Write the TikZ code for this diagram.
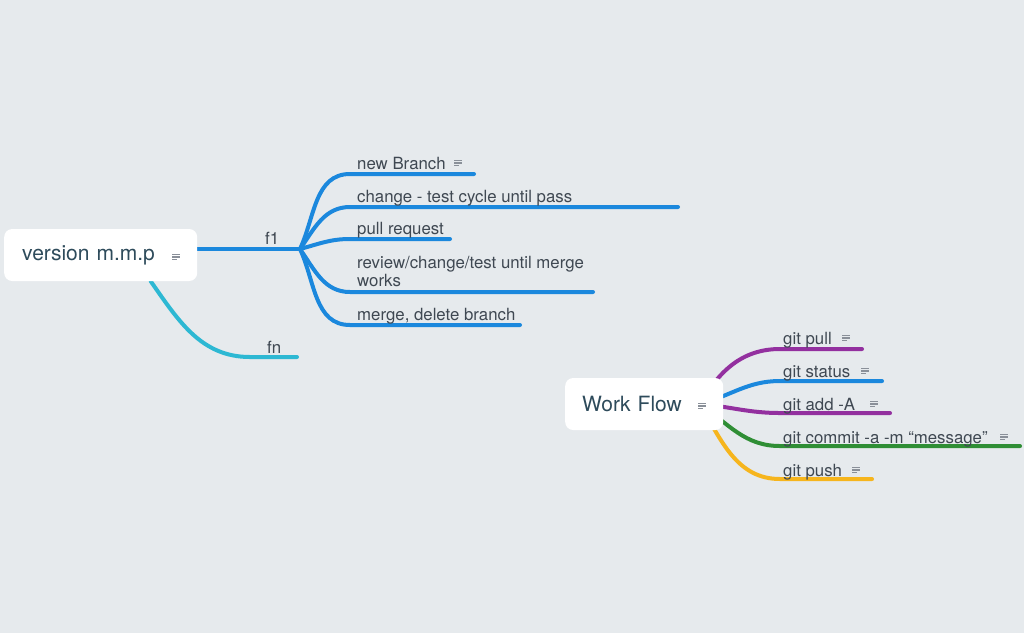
\documentclass[tikz,border=0pt]{standalone}
\usepackage{fontspec}
\setmainfont{TeX Gyre Heros}
\usetikzlibrary{calc}
\definecolor{bgcol}{HTML}{E6EAED}
\definecolor{txt}{HTML}{3F4852}
\definecolor{maintxt}{HTML}{2E4B5B}
\definecolor{lblue}{HTML}{1B88DD}
\definecolor{lcyan}{HTML}{2DB8D3}
\definecolor{lpurple}{HTML}{93309F}
\definecolor{lgreen}{HTML}{2F8E35}
\definecolor{lyellow}{HTML}{F6B51D}
\definecolor{memocol}{HTML}{8A9099}
\pgfdeclarelayer{bg}
\pgfsetlayers{bg,main}
\tikzset{
  topic/.style={fill=white,rounded corners=8pt,minimum height=52pt,align=left,
    text=maintxt,font=\fontsize{21}{24}\selectfont,anchor=west},
  branch/.style={line width=4pt,line cap=round},
  lbl/.style={text=txt,font=\fontsize{16.8}{18}\selectfont,anchor=base west,inner sep=0pt},
  memo/.pic={\draw[memocol,line width=1.3pt] (-4,-2.5) -- (4,-2.5) (-4,0) -- (4,0) (-4,2.5) -- (1,2.5);}
}

\begin{document}
\begin{tikzpicture}[x=1pt,y=-1pt]
					\useasboundingbox (0,0) rectangle (1024,633);
					\begin{pgfonlayer}{bg}
					\fill[bgcol] (0,0) rectangle (1024,633);
					\end{pgfonlayer}
					
					% main topics
					\node[topic,text width=157pt,inner xsep=18pt,minimum width=193pt] (vers) at (4,255) {version m.m.p};
					\pic at (176,257) {memo};
					\node[topic,text width=124pt,inner xsep=17pt,minimum width=158pt] (wf) at (565,404) {Work Flow};
					\pic at (702,406) {memo};
					
					\coordinate (fone) at (300,249);
					\coordinate (newbr-l) at (350,174); \coordinate (newbr-r) at (474,174);
					\coordinate (chg-l) at (350,207); \coordinate (chg-r) at (678,207);
					\coordinate (pullrq-l) at (350,239); \coordinate (pullrq-r) at (450,239);
					\coordinate (review-l) at (350,292); \coordinate (review-r) at (593,292);
					\coordinate (merge-l) at (350,325); \coordinate (merge-r) at (520,325);
					\coordinate (fn-l) at (250,357); \coordinate (fn-r) at (297,357);
					
					\coordinate (wfo) at (700,404);
					\coordinate (gpull-l) at (780,349); \coordinate (gpull-r) at (862,349);
					\coordinate (gstat-l) at (780,381); \coordinate (gstat-r) at (882,381);
					\coordinate (gadd-l) at (780,413); \coordinate (gadd-r) at (890,413);
					\coordinate (gcommit-l) at (780,446); \coordinate (gcommit-r) at (1020,446);
					\coordinate (gpush-l) at (780,479); \coordinate (gpush-r) at (872,479);
					
					\begin{pgfonlayer}{bg}
					\draw[branch,lblue] ([yshift=6pt]vers.east) -- (fone);
					\foreach \n/\a in {newbr/65,chg/55,pullrq/15,review/-55,merge/-65}
						\draw[branch,lblue] (fone) to[out=\a,in=180] (\n-l) -- (\n-r);
					\draw[branch,lcyan] ([xshift=50pt]vers.south) to[out=-55,in=180] (fn-l) -- (fn-r);
					
					\draw[branch,lpurple] (wfo) to[out=60,in=180] (gpull-l) -- (gpull-r);
					\draw[branch,lblue] (wfo) to[out=15,in=180] (gstat-l) -- (gstat-r);
					\draw[branch,lpurple] (wfo) to[out=-5,in=180] (gadd-l) -- (gadd-r);
					\draw[branch,lgreen] (wfo) to[out=-35,in=180] (gcommit-l) -- (gcommit-r);
					\draw[branch,lyellow] (wfo) to[out=-60,in=180] (gpush-l) -- (gpush-r);
					\end{pgfonlayer}
					
					% labels
					\node[lbl] (f1) at (265,244) {f1};
					\node[lbl] (fn) at (267,353) {fn};
					\node[lbl] (newbr) at (357,169) {new Branch};
					\pic at (458,163) {memo};
					\node[lbl] (chg) at (357,202) {change - test cycle until pass};
					\node[lbl] (pullrq) at (357,234) {pull request};
					\node[lbl,align=left,anchor=north west] (review) at (357,256) {review/change/test until merge\\works};
					\node[lbl] (merge) at (357,320) {merge, delete branch};
					
					\node[lbl] (gpull) at (783,344) {git pull};
					\pic at (846,338) {memo};
					\node[lbl] (gstat) at (783,377) {git status};
					\pic at (865,371) {memo};
					\node[lbl] (gadd) at (783,410) {git add -A};
					\pic at (874,404) {memo};
					\node[lbl] (gcommit) at (783,443) {git commit -a -m “message”};
					\pic at (1004,437) {memo};
					\node[lbl] (gpush) at (783,476) {git push};
					\pic at (856,470) {memo};
				\end{tikzpicture}
\end{document}
